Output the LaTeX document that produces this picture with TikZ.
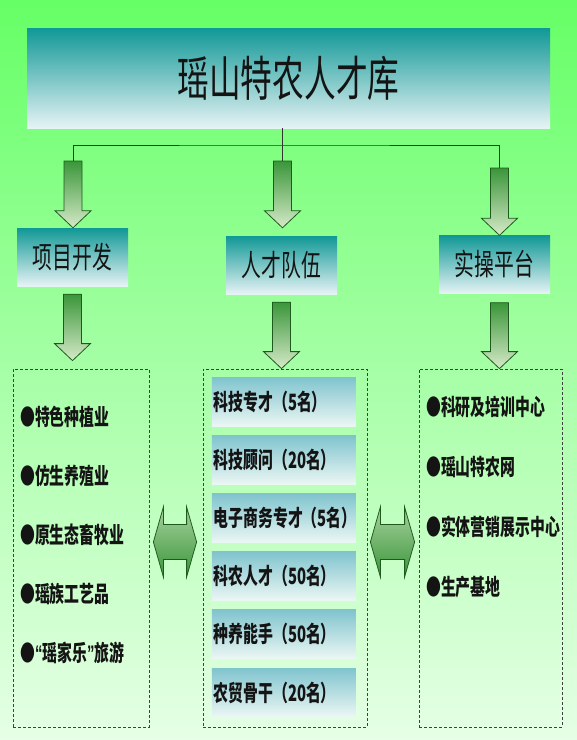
\documentclass[tikz,border=0pt]{standalone}
\usepackage{fontspec}
\usepackage{graphicx}
\usetikzlibrary{calc}
\newfontfamily\cjk{Noto Sans CJK SC}
\newfontfamily\latin{Liberation Sans}
\newcommand\narrow[1]{\scalebox{0.66}[1]{#1}}
\definecolor{bgtop}{RGB}{102,255,102}
\definecolor{bgmid}{RGB}{172,248,156}
\definecolor{bgbot}{RGB}{230,255,230}
\definecolor{tealtop}{RGB}{16,152,150}
\definecolor{tealbot}{RGB}{230,243,245}
\definecolor{entrytop}{RGB}{128,196,206}
\definecolor{entrybot}{RGB}{236,247,244}
\definecolor{arrowdark}{RGB}{58,150,58}
\definecolor{arrowlight}{RGB}{214,234,200}
\definecolor{arrowline}{RGB}{30,90,30}
\definecolor{ink}{RGB}{20,20,20}
\tikzset{
  headbox/.style={top color=tealtop, bottom color=tealbot, inner sep=0pt, text=ink,
    minimum width=111pt, minimum height=58pt, font=\cjk\fontsize{30}{30}\selectfont},
  group/.style={draw=black!75, dash pattern=on 3pt off 2pt, line width=0.8pt,
    minimum height=358pt},
  item/.style={anchor=west, inner sep=0pt, text=ink, font=\cjk\bfseries\fontsize{22.5}{22.5}\selectfont},
  entry/.style={item, anchor=center, top color=entrytop, bottom color=entrybot,
    minimum height=49pt, text width=140pt, inner xsep=2pt, align=left},
  wire/.style={draw=black!80, line width=0.8pt},
  fatarrowstyle/.style={top color=arrowdark, bottom color=arrowlight, draw=arrowline, line width=0.8pt},
  twinstyle/.style={top color=arrowlight!70!arrowdark, bottom color=arrowdark, draw=arrowline, line width=0.8pt}
}
\newcommand\fatarrow[2]{%
  \path[fatarrowstyle] let \p1=#1, \p2=#2 in
    (\x1-9pt,\y1) -- (\x1+9pt,\y1) -- (\x1+9pt,\y2+17pt) -- (\x1+18pt,\y2+17pt)
    -- (\x1,\y2) -- (\x1-18pt,\y2+17pt) -- (\x1-9pt,\y2+17pt) -- cycle;}
\newcommand\twinarrow[2]{%
  \path[twinstyle] let \p1=#1, \p2=#2 in
    (\x1,\y1) -- (\x1+10pt,\y1+35pt) -- (\x1+10pt,\y1+17.5pt) -- (\x2-10pt,\y1+17.5pt)
    -- (\x2-10pt,\y1+35pt) -- (\x2,\y1) -- (\x2-10pt,\y1-35pt) -- (\x2-10pt,\y1-17.5pt)
    -- (\x1+10pt,\y1-17.5pt) -- (\x1+10pt,\y1-35pt) -- cycle;}
\begin{document}
\begin{tikzpicture}[x=1pt,y=-1pt]
\useasboundingbox (0,0) rectangle (577,740);
\shade[top color=bgtop, middle color=bgmid, bottom color=bgbot] (0,0) rectangle (577,740);

\node[headbox, minimum width=523pt, minimum height=100pt, font=\cjk\fontsize{48}{48}\selectfont]
  (title) at (288.5,78) {\narrow{瑶山特农人才库}};
\node[headbox] (dev) at (72.5,257) {\narrow{项目开发}};
\node[headbox] (team) at (281.5,265) {\narrow{人才队伍}};
\node[headbox] (plat) at (494.5,264.5) {\narrow{实操平台}};

\node[group, minimum width=136pt] (devlist) at (81,548) {};
\node[group, minimum width=164pt] (teamlist) at (285,548) {};
\node[group, minimum width=143pt] (platlist) at (490.5,548) {};

\foreach \t [count=\i] in {特色种植业,仿生养殖业,原生态畜牧业,瑶族工艺品,{{\latin “}瑶家乐{\latin ”}旅游}}
  \node[item] (d\i) at (20,358+59*\i) {\narrow{●\t}};
\foreach \t [count=\i] in {科技专才（5名）,科技顾问（20名）,电子商务专才（5名）,科农人才（50名）,种养能手（50名）,农贸骨干（20名）}
  \node[entry] (m\i) at (283.8,343.9+58.1*\i) {\narrow{\t}};
\foreach \t [count=\i] in {科研及培训中心,瑶山特农网,实体营销展示中心,生产基地}
  \node[item] (p\i) at (426,347+60*\i) {\narrow{●\t}};

\coordinate (t1) at (73,161);
\coordinate (t2) at (282.5,161);
\coordinate (t3) at (499.5,168);
\coordinate (hub) at (282.5,145);
\draw[wire] (title.south -| hub) -- (hub);
\draw[wire] (t1) |- (hub) -| (t3);
\draw[wire] (hub) -- (t2);

\fatarrow{(t1)}{(dev.north -| t1)}
\fatarrow{(t2)}{($(team.north -| t2)+(0,-8)$)}
\fatarrow{(t3)}{(plat.north -| t3)}
\fatarrow{($(dev.south)+(0,8)$)}{($(devlist.north)+(0,-8)$)}
\fatarrow{($(team.south)+(0,8)$)}{(teamlist.north)}
\fatarrow{($(plat.south -| t3)+(0,9)$)}{(platlist.north)}

\twinarrow{($(devlist.east)+(4,-6)$)}{($(teamlist.west)+(-6,-6)$)}
\twinarrow{($(teamlist.east)+(3,-6)$)}{($(platlist.west)+(-4,-6)$)}
\end{tikzpicture}
\end{document}
